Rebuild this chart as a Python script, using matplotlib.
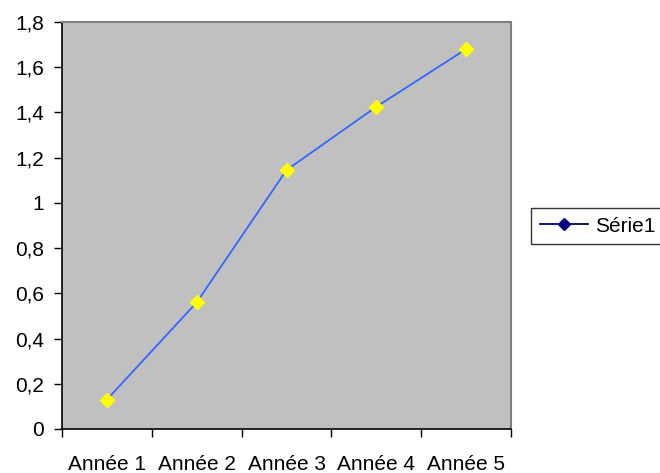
import matplotlib
matplotlib.use("Agg")
import matplotlib.pyplot as plt
from matplotlib.lines import Line2D
import numpy as np

categories = ["Année 1", "Année 2", "Année 3", "Année 4", "Année 5"]
values = [0.13, 0.56, 1.145, 1.425, 1.68]
series_name = "Série1"
y_ticks = [0, 0.2, 0.4, 0.6, 0.8, 1.0, 1.2, 1.4, 1.6, 1.8]
y_tick_labels = ["0", "0,2", "0,4", "0,6", "0,8", "1", "1,2", "1,4", "1,6", "1,8"]

plt.rcParams["font.family"] = ["Liberation Sans", "DejaVu Sans"]
W, H = 660, 473
fig = plt.figure(figsize=(W / 100, H / 100), dpi=100)
ax = fig.add_axes([62 / W, 1 - 429 / H, (511 - 62) / W, (429 - 22) / H])
ax.set_facecolor("#C0C0C0")

x = np.arange(len(categories)) + 0.5
ax.plot(x, values, color="#3366FF", lw=1.3, zorder=2)
ax.plot(x, values, ls="none", marker="D", ms=7, mfc="#FFFF00", mec="#FFFF00", zorder=3)

ax.set_xlim(0, len(categories))
ax.set_ylim(0, 1.8)
ax.set_yticks(y_ticks)
ax.set_yticklabels(y_tick_labels, fontsize=15)
ax.set_xticks(np.arange(len(categories) + 1))
ax.set_xticklabels([])
ax.set_xticks(x, minor=True)
ax.set_xticklabels(categories, minor=True, fontsize=15)
ax.tick_params(axis="x", which="minor", length=0, pad=19)
ax.tick_params(axis="x", which="major", length=6, width=1, color="black", direction="out")
ax.tick_params(axis="y", length=6, width=1, color="black", direction="out", pad=7)

for side in ("left", "bottom"):
    ax.spines[side].set_color("black")
    ax.spines[side].set_linewidth(1.2)
for side in ("top", "right"):
    ax.spines[side].set_color("#808080")
    ax.spines[side].set_linewidth(1.5)

handle = Line2D([], [], color="#000080", lw=1.3, marker="D", ms=6, mfc="#000080", mec="#000080")
leg = fig.legend([handle], [series_name], loc="center left",
                 bbox_to_anchor=(531 / W, 1 - 226 / H), fontsize=15,
                 frameon=True, fancybox=False, edgecolor="black",
                 handlelength=2.3, handletextpad=0.35, borderpad=0.42,
                 borderaxespad=0)
leg.get_frame().set_linewidth(1.0)

fig.savefig("out.png", dpi=100, facecolor="white")
